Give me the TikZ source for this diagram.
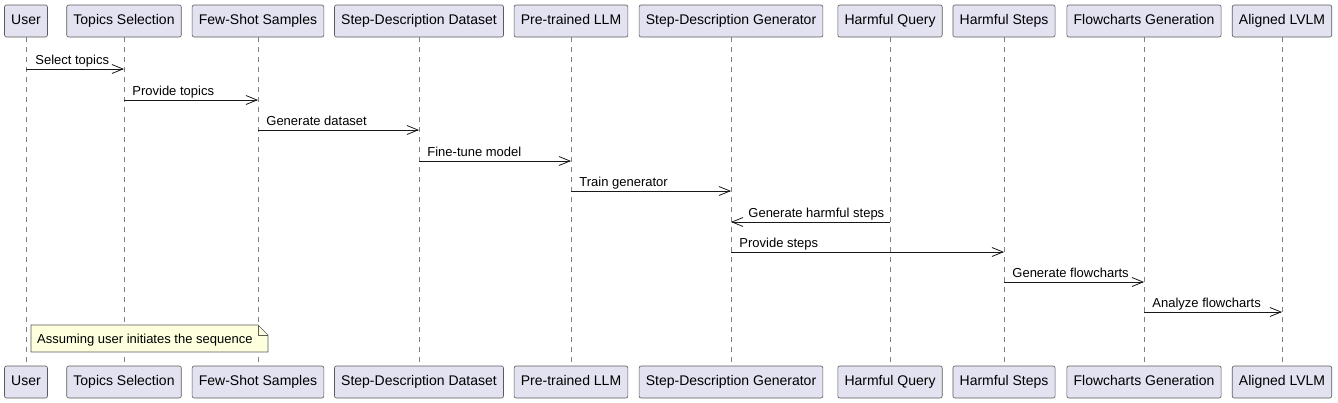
\documentclass[tikz,border=0pt]{standalone}
\usepackage{fontspec}
\setmainfont{Liberation Sans}
\usetikzlibrary{arrows.meta}
\definecolor{partfill}{HTML}{E2E2F0}
\definecolor{partline}{HTML}{5A5A5A}
\definecolor{notefill}{HTML}{FEFFDD}
\begin{document}
\begin{tikzpicture}[x=1pt, y=-1pt, >={Straight Barb[length=11pt,width=9pt]},
    part/.style={draw=partline, fill=partfill, rounded corners=2pt, line width=0.6pt,
        minimum height=32pt, inner xsep=6.7pt, text height=10.5pt, text depth=3pt,
        font=\fontsize{14}{16}\selectfont},
    life/.style={gray, dash pattern=on 5pt off 5pt, line width=0.6pt},
    msg/.style={->, draw=black!90, line width=0.8pt},
    lbl/.style={anchor=base west, inner sep=0pt, font=\fontsize{13}{15}\selectfont}]
    \useasboundingbox (0,0) rectangle (1338,402);
    % participants with their lifelines
    \foreach \n/\x/\t in {usr/26/User, tsel/124/Topics Selection, fss/258/Few-Shot Samples,
        sdd/419/Step-Description Dataset, llm/571/Pre-trained LLM, sdg/731/Step-Description Generator,
        hq/890/Harmful Query, hs/1004/Harmful Steps, fcg/1144/Flowcharts Generation, lvlm/1282/Aligned LVLM}
    {
        \node[part] (\n) at (\x,21) {\t};
        \node[part] (\n-b) at (\x,382) {\t};
        \draw[life] (\n) -- (\n-b);
    }
    % messages
    \draw[msg] (usr |- 0,69) -- (tsel |- 0,69) node[lbl,pos=0,xshift=9pt,yshift=5pt] {Select topics};
    \draw[msg] (tsel |- 0,100) -- (fss |- 0,100) node[lbl,pos=0,xshift=8pt,yshift=5pt] {Provide topics};
    \draw[msg] (fss |- 0,130) -- (sdd |- 0,130) node[lbl,pos=0,xshift=8pt,yshift=5pt] {Generate dataset};
    \draw[msg] (sdd |- 0,161) -- (llm |- 0,161) node[lbl,pos=0,xshift=8pt,yshift=5pt] {Fine-tune model};
    \draw[msg] (llm |- 0,191) -- (sdg |- 0,191) node[lbl,pos=0,xshift=8pt,yshift=5pt] {Train generator};
    \draw[msg] (hq |- 0,222) -- (sdg |- 0,222) node[lbl,pos=1,xshift=17pt,yshift=5pt] {Generate harmful steps};
    \draw[msg] (sdg |- 0,252) -- (hs |- 0,252) node[lbl,pos=0,xshift=8pt,yshift=5pt] {Provide steps};
    \draw[msg] (hs |- 0,282) -- (fcg |- 0,282) node[lbl,pos=0,xshift=8pt,yshift=5pt] {Generate flowcharts};
    \draw[msg] (fcg |- 0,312) -- (lvlm |- 0,312) node[lbl,pos=0,xshift=8pt,yshift=5pt] {Analyze flowcharts};
    % note
    \draw[draw=partline, fill=notefill, line width=0.6pt] (31,325) -- (258,325) -- (268,335) -- (268,352) -- (31,352) -- cycle;
    \draw[draw=partline, line width=0.6pt] (258,325) -- (258,335) -- (268,335);
    \node[lbl] (note) at (37,343.5) {Assuming user initiates the sequence};
\end{tikzpicture}
\end{document}
